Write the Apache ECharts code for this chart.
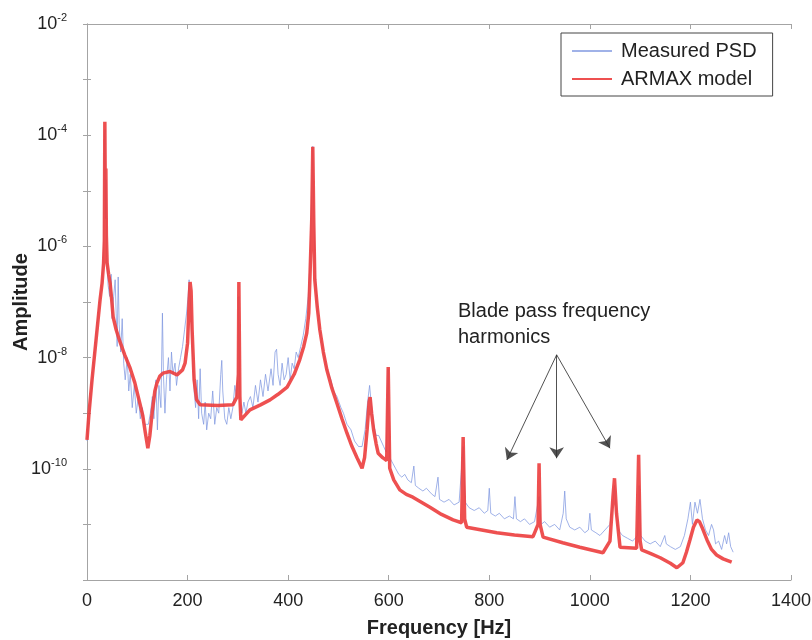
<!DOCTYPE html>
<html>
<head>
<meta charset="utf-8">
<script src="https://cdn.jsdelivr.net/npm/echarts@6/dist/echarts.min.js"></script>
<style>
  html, body { margin: 0; padding: 0; background: #fff; }
  #main { width: 812px; height: 640px; }
</style>
</head>
<body>
<div id="main"></div>
<script>
// measured PSD: frequency [Hz] and decade exponent
var psdFreq = [0, 5, 10, 15, 20, 25, 28, 31, 33, 35, 36, 37, 38, 39, 42, 45, 48, 50, 53, 56, 58, 60, 62, 64, 67, 70, 73, 76, 80, 83, 86, 90, 94, 98, 102, 106, 110, 114, 118, 122, 126, 130, 133, 137, 140, 143, 147, 150, 152, 155, 158, 162, 165, 168, 171, 175, 178, 182, 186, 190, 194, 198, 201, 203, 205, 207, 210, 213, 216, 219, 222, 225, 228, 232, 235, 238, 242, 246, 250, 254, 258, 262, 266, 268, 270, 274, 278, 282, 286, 290, 294, 297, 300, 302, 304, 308, 312, 316, 320, 325, 330, 335, 340, 345, 350, 355, 360, 366, 370, 374, 377, 380, 384, 388, 392, 396, 400, 404, 408, 412, 416, 420, 425, 430, 435, 440, 444, 447, 449, 451, 454, 458, 463, 470, 477, 485, 490, 497, 505, 510, 517, 525, 532, 540, 547, 553, 558, 562, 565, 570, 575, 580, 585, 590, 595, 599, 602, 608, 614, 620, 626, 632, 638, 645, 650, 653, 660, 668, 675, 685, 692, 698, 701, 710, 720, 730, 740, 748, 752, 760, 770, 780, 790, 797, 800, 803, 812, 820, 830, 840, 848, 851, 854, 862, 870, 880, 890, 899, 903, 910, 920, 930, 940, 947, 950, 953, 960, 970, 980, 990, 997, 1000, 1003, 1012, 1020, 1030, 1040, 1046, 1049, 1052, 1056, 1065, 1075, 1085, 1095, 1098, 1101, 1110, 1120, 1130, 1140, 1149, 1152, 1160, 1170, 1180, 1188, 1195, 1200, 1204, 1209, 1214, 1219, 1224, 1230, 1236, 1242, 1246, 1250, 1256, 1262, 1268, 1272, 1276, 1280, 1285];
var psdExp = [-9.5, -9.0, -8.4, -7.9, -7.4, -7.0, -6.8, -6.5, -6.0, -4.0, -3.9, -5.5, -4.8, -6.2, -6.7, -6.9, -6.5, -7.3, -6.9, -6.6, -7.2, -7.8, -6.55, -7.4, -7.9, -7.3, -8.1, -8.4, -8.0, -8.6, -8.3, -8.9, -8.5, -9.0, -8.7, -9.1, -8.9, -9.2, -9.2, -9.2, -9.0, -8.7, -9.1, -8.4, -9.3, -8.5, -8.9, -7.2, -8.3, -9.0, -8.4, -8.0, -8.6, -7.9, -8.3, -8.1, -8.5, -8.2, -8.0, -7.8, -7.5, -7.2, -6.9, -6.6, -6.6, -7.2, -8.0, -8.6, -8.9, -8.4, -9.1, -8.2, -9.0, -9.2, -8.8, -9.3, -9.0, -9.1, -8.6, -9.2, -8.9, -9.0, -8.3, -8.05, -8.6, -9.1, -9.2, -8.9, -9.1, -8.9, -8.5, -8.7, -8.4, -6.9, -8.8, -9.0, -8.8, -9.0, -8.8, -8.7, -8.9, -8.5, -8.8, -8.4, -8.7, -8.3, -8.6, -8.2, -8.5, -7.9, -7.85, -8.3, -8.5, -8.1, -8.4, -8.3, -8.0, -8.4, -8.1, -8.2, -7.9, -8.0, -7.8, -7.6, -7.3, -6.9, -6.2, -5.0, -4.2, -5.4, -6.5, -7.1, -7.5, -7.9, -8.2, -8.4, -8.6, -8.7, -8.9, -9.0, -9.2, -9.3, -9.5, -9.6, -9.6, -9.3, -8.8, -8.5, -8.8, -9.2, -9.4, -9.4, -9.5, -9.6, -9.7, -8.2, -9.8, -9.9, -10.0, -10.1, -10.15, -10.1, -10.2, -10.25, -9.95, -10.3, -10.35, -10.4, -10.35, -10.45, -10.5, -10.15, -10.55, -10.6, -10.55, -10.65, -10.6, -9.6, -10.6, -10.7, -10.75, -10.7, -10.8, -10.75, -10.35, -10.8, -10.85, -10.8, -10.9, -10.85, -10.9, -10.5, -10.9, -10.95, -10.9, -11.0, -10.95, -10.5, -11.0, -10.95, -11.05, -11.0, -11.1, -10.8, -10.4, -10.9, -11.05, -11.1, -11.05, -11.15, -11.1, -10.8, -11.1, -11.15, -11.2, -11.1, -11.0, -10.6, -10.3, -10.7, -11.1, -11.2, -11.25, -11.3, -11.2, -10.3, -11.2, -11.3, -11.35, -11.3, -11.4, -11.2, -11.35, -11.4, -11.45, -11.4, -11.2, -10.9, -10.6, -11.0, -10.6, -10.8, -10.55, -10.9, -11.1, -11.2, -11.0, -11.1, -11.35, -11.3, -11.45, -11.2, -11.35, -11.15, -11.4, -11.5];

// ARMAX model: frequency [Hz] and decade exponent
var armaxFreq = [0, 4, 10, 18, 26, 30, 33, 34.5, 35.5, 36.5, 37.5, 38.5, 40, 43, 46, 49, 52, 58, 65, 75, 85, 95, 105, 111, 116, 121, 125, 130, 135, 139, 145, 151, 165, 179, 190, 195, 200, 203, 205, 207, 209, 213, 218, 225, 260, 290, 298, 301, 302, 304, 306, 324, 345, 364, 380, 398, 412, 423, 431, 437, 441, 443, 447, 449, 451, 453, 458, 463, 470, 477, 487, 497, 507, 517, 527, 537, 547, 552, 557, 561, 563, 566, 570, 575, 579, 588, 596, 599, 602, 610, 622, 635, 648, 665, 682, 705, 728, 745, 748, 751, 755, 785, 815, 850, 887, 897, 899, 901, 907, 946, 980, 1026, 1040, 1046, 1049, 1053, 1060, 1093, 1097, 1100, 1103, 1120, 1140, 1160, 1173, 1185, 1192, 1199, 1206, 1213, 1218, 1223, 1233, 1242, 1252, 1265, 1282];
var armaxExp = [-9.48, -9.0, -8.40, -7.68, -6.96, -6.66, -6.3, -5.9, -3.76, -5.3, -4.6, -5.8, -6.3, -6.5, -6.66, -6.95, -7.27, -7.5, -7.7, -7.95, -8.17, -8.45, -8.82, -9.05, -9.35, -9.63, -9.4, -8.95, -8.6, -8.46, -8.33, -8.28, -8.25, -8.31, -8.22, -8.1, -7.74, -7.0, -6.64, -6.8, -7.5, -8.4, -8.76, -8.85, -8.86, -8.85, -8.71, -8.3, -6.64, -8.7, -9.12, -8.94, -8.85, -8.76, -8.66, -8.53, -8.3, -8.04, -7.8, -7.56, -7.2, -6.66, -5.5, -4.21, -5.6, -6.6, -7.1, -7.5, -7.9, -8.22, -8.55, -8.82, -9.1, -9.36, -9.6, -9.8, -9.99, -9.8, -9.3, -8.8, -8.71, -9.0, -9.3, -9.55, -9.72, -9.8, -9.85, -8.17, -9.99, -10.2, -10.38, -10.46, -10.51, -10.6, -10.69, -10.82, -10.92, -10.97, -9.43, -10.9, -11.05, -11.1, -11.15, -11.19, -11.22, -11.0, -9.90, -11.0, -11.23, -11.33, -11.41, -11.51, -11.3, -10.5, -10.17, -10.8, -11.41, -11.43, -9.75, -11.3, -11.46, -11.52, -11.6, -11.7, -11.78, -11.69, -11.5, -11.28, -11.05, -10.92, -10.95, -11.05, -11.28, -11.45, -11.55, -11.62, -11.68];

// annotation arrows: common start and three tips [Hz, exponent]
var arrowStart = [934, -7.95];
var arrowTips = [[835, -9.84], [934, -9.81], [1040, -9.63]];

var yLabelExp = [-2, -4, -6, -8, -10];

function toPairs(fs, es) {
  return fs.map(function (f, i) { return [f, Math.pow(10, es[i])]; });
}

var chart = echarts.init(document.getElementById('main'));

var frameColor = '#a4a4a4';
var font = 'Liberation Sans, Arial, Helvetica, sans-serif';

function yLabel(v) {
  var e = Math.round(Math.log10(v));
  if (yLabelExp.indexOf(e) < 0) return '';
  return '{b|10}{s|' + e + '}';
}

var arrowData = arrowTips.map(function (t) {
  return [
    { coord: [arrowStart[0], Math.pow(10, arrowStart[1])] },
    { coord: [t[0], Math.pow(10, t[1])] }
  ];
});

var option = {
  backgroundColor: '#fff',
  animation: false,
  grid: { left: 87, right: 21, top: 24, bottom: 60, containLabel: false, outerBoundsMode: 'none' },
  legend: {
    left: 561,
    top: 33,
    orient: 'vertical',
    itemWidth: 40,
    itemHeight: 14,
    itemGap: 8,
    padding: [8, 16, 7, 10],
    borderColor: '#444',
    borderWidth: 1,
    backgroundColor: '#fff',
    itemStyle: { color: 'rgba(0,0,0,0)', borderWidth: 0, opacity: 0 },
    textStyle: { fontFamily: font, fontSize: 20, color: '#222', padding: [0, 0, 0, 4] },
    data: ['Measured PSD', 'ARMAX model']
  },
  xAxis: [
    {
      type: 'value', min: 0, max: 1400, interval: 200,
      name: 'Frequency [Hz]', nameLocation: 'middle', nameGap: 38, nameMoveOverlap: false,
      nameTextStyle: { fontFamily: font, fontSize: 20, fontWeight: 'bold', color: '#222' },
      axisLine: { lineStyle: { color: frameColor } },
      axisTick: { inside: true, length: 5, lineStyle: { color: frameColor } },
      axisLabel: { fontFamily: font, fontSize: 18, color: '#222', margin: 12,
        formatter: function (v) { return String(v); } },
      splitLine: { show: false }
    },
    {
      type: 'value', min: 0, max: 1400, interval: 200, position: 'top',
      axisLine: { lineStyle: { color: frameColor } },
      axisTick: { inside: true, length: 5, lineStyle: { color: frameColor } },
      axisLabel: { show: false },
      splitLine: { show: false }
    }
  ],
  yAxis: [
    {
      type: 'log', logBase: 10, min: 1e-12, max: 1e-2, interval: 1,
      name: 'Amplitude', nameLocation: 'middle', nameGap: 56, nameMoveOverlap: false,
      nameTextStyle: { fontFamily: font, fontSize: 20, fontWeight: 'bold', color: '#222' },
      axisLine: { lineStyle: { color: frameColor } },
      axisTick: { inside: true, length: 4, lineStyle: { color: frameColor } },
      axisLabel: {
        margin: 20,
        formatter: yLabel,
        rich: {
          b: { fontFamily: font, fontSize: 18, color: '#222' },
          s: { fontFamily: font, fontSize: 11, color: '#222', padding: [0, 0, 12, 0] }
        }
      },
      splitLine: { show: false }
    },
    {
      type: 'log', logBase: 10, min: 1e-12, max: 1e-2, interval: 1, position: 'right',
      axisLine: { lineStyle: { color: frameColor } },
      axisTick: { inside: true, length: 4, lineStyle: { color: frameColor } },
      axisLabel: { show: false },
      splitLine: { show: false }
    }
  ],
  graphic: [
    {
      type: 'text', left: 458, top: 298, silent: true,
      style: {
        text: 'Blade pass frequency\nharmonics',
        fontFamily: font, fontSize: 20, lineHeight: 26, fill: '#222'
      }
    }
  ],
  series: [
    {
      name: 'Measured PSD',
      type: 'line',
      symbol: 'none',
      data: toPairs(psdFreq, psdExp),
      lineStyle: { color: '#8098e0', width: 1, opacity: 0.75 },
      itemStyle: { color: '#8098e0' },
      z: 2
    },
    {
      name: 'ARMAX model',
      type: 'line',
      symbol: 'none',
      data: toPairs(armaxFreq, armaxExp),
      lineStyle: { color: '#ec3d3d', width: 3.5, opacity: 0.9 },
      itemStyle: { color: '#ec3d3d' },
      z: 3,
      markLine: {
        silent: true,
        symbol: ['none', 'arrow'],
        symbolSize: 11,
        label: { show: false },
        lineStyle: { color: '#333', width: 1, type: 'solid', opacity: 0.85 },
        data: arrowData
      }
    }
  ]
};

chart.setOption(option);
</script>
</body>
</html>
